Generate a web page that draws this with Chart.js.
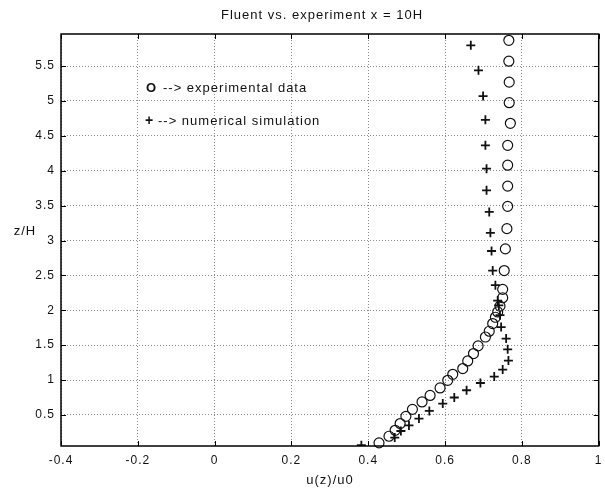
<!DOCTYPE html>
<html>
<head>
<meta charset="utf-8">
<script src="https://cdn.jsdelivr.net/npm/chart.js@4/dist/chart.umd.min.js"></script>
<style>
  html, body { margin: 0; padding: 0; background: #fff; }
  #wrap { width: 605px; height: 491px; }
</style>
</head>
<body>
<div id="wrap"><canvas id="perfil" width="605" height="491"></canvas></div>
<script>
// experimental data (circles)
var expU = [0.766, 0.766, 0.767, 0.767, 0.770, 0.763, 0.763, 0.763, 0.763, 0.761,
            0.757, 0.754, 0.750, 0.750, 0.743, 0.737, 0.731, 0.724, 0.715, 0.705,
            0.686, 0.674, 0.659, 0.646, 0.620, 0.607, 0.587, 0.561, 0.540, 0.515,
            0.498, 0.483, 0.470, 0.454, 0.428];
var expZ = [5.87, 5.57, 5.27, 4.975, 4.68, 4.364, 4.08, 3.78, 3.49, 3.17,
            2.88, 2.57, 2.30, 2.18, 2.06, 1.976, 1.90, 1.81, 1.70, 1.617,
            1.49, 1.38, 1.274, 1.165, 1.083, 0.997, 0.887, 0.78, 0.686, 0.58,
            0.48, 0.377, 0.28, 0.195, 0.10];

// numerical simulation (stars)
var numU = [0.667, 0.687, 0.699, 0.705, 0.705, 0.708, 0.708, 0.715, 0.718, 0.721,
            0.724, 0.731, 0.737, 0.740, 0.743, 0.746, 0.759, 0.763, 0.765, 0.750,
            0.728, 0.692, 0.656, 0.624, 0.594, 0.559, 0.532, 0.506, 0.485, 0.469,
            0.382];
var numZ = [5.797, 5.44, 5.07, 4.73, 4.364, 4.03, 3.72, 3.41, 3.11, 2.85,
            2.57, 2.36, 2.14, 2.07, 1.93, 1.76, 1.594, 1.44, 1.28, 1.15,
            1.05, 0.958, 0.854, 0.75, 0.663, 0.557, 0.448, 0.35, 0.27, 0.176,
            0.066];

var xTicks = [-0.4, -0.2, 0, 0.2, 0.4, 0.6, 0.8, 1];
var xLabels = ['-0.4', '-0.2', '0', '0.2', '0.4', '0.6', '0.8', '1'];
var yTicks = [0.5, 1, 1.5, 2, 2.5, 3, 3.5, 4, 4.5, 5, 5.5];
var yLabels = ['0.5', '1', '1.5', '2', '2.5', '3', '3.5', '4', '4.5', '5', '5.5'];

var titulo = 'Fluent vs. experiment x = 10H';
var tituloX = 'u(z)/u0';
var tituloY = 'z/H';
var leyenda = [['O', '--> experimental data'], ['+', '--> numerical simulation']];

var fuente = '"Liberation Sans", Arial, sans-serif';

var puntosExp = [];
for (var i = 0; i < expU.length; i++) {
    puntosExp.push({x: expU[i], y: expZ[i]});
}
var puntosNum = [];
for (var i = 0; i < numU.length; i++) {
    puntosNum.push({x: numU[i], y: numZ[i]});
}

// the old matlab text is wide, so a bit of letter spacing everywhere
const espaciado = {
    id: 'espaciado',
    beforeLayout(chart) { chart.ctx.letterSpacing = '1px'; },
    beforeDraw(chart) { chart.ctx.letterSpacing = '1px'; }
};

// title, axis titles, text legend, box and inward ticks (matlab look)
const textos = {
    id: 'textos',
    afterDraw(chart) {
        const ctx = chart.ctx;
        const a = chart.chartArea;
        const sx = chart.scales.x;
        const sy = chart.scales.y;
        ctx.save();
        ctx.strokeStyle = '#000';
        ctx.lineWidth = 1;
        xTicks.forEach(function (v) {
            var p = Math.round(sx.getPixelForValue(v)) + 0.5;
            ctx.beginPath();
            ctx.moveTo(p, a.bottom); ctx.lineTo(p, a.bottom - 5);
            ctx.moveTo(p, a.top); ctx.lineTo(p, a.top + 5);
            ctx.stroke();
        });
        yTicks.forEach(function (v) {
            var p = Math.round(sy.getPixelForValue(v)) + 0.5;
            ctx.beginPath();
            ctx.moveTo(a.left, p); ctx.lineTo(a.left + 5, p);
            ctx.moveTo(a.right, p); ctx.lineTo(a.right - 5, p);
            ctx.stroke();
        });
        ctx.lineWidth = 1.5;
        ctx.strokeRect(a.left, a.top, a.right - a.left, a.bottom - a.top);

        ctx.fillStyle = '#111';
        ctx.textBaseline = 'middle';
        ctx.textAlign = 'center';
        ctx.letterSpacing = '1px';
        ctx.font = '13px ' + fuente;
        ctx.fillText(titulo, 322, 15);
        ctx.fillText(tituloX, 330, 480);
        ctx.fillText(tituloY, 25, 231);

        ctx.textAlign = 'left';
        ctx.font = 'bold 13px ' + fuente;
        ctx.fillText(leyenda[0][0], 146, 88);
        ctx.font = '13px ' + fuente;
        ctx.fillText(leyenda[0][1], 163, 88);
        ctx.font = 'bold 14px ' + fuente;
        ctx.fillText(leyenda[1][0], 145, 121);
        ctx.font = '13px ' + fuente;
        ctx.fillText(leyenda[1][1], 158, 121);
        ctx.restore();
    }
};

const dataPerfil = {
    datasets: [{
        label: 'experimental data',
        data: puntosExp,
        showLine: false,
        pointStyle: 'circle',
        pointRadius: 5,
        pointBorderWidth: 1.2,
        borderColor: '#111',
        backgroundColor: 'rgba(0,0,0,0)',
        clip: 6
    }, {
        label: 'numerical simulation',
        data: puntosNum,
        showLine: false,
        pointStyle: 'cross',
        pointRadius: 4.5,
        pointBorderWidth: 1.8,
        borderColor: '#111',
        backgroundColor: '#111',
        clip: 0
    }]
};

const configPerfil = {
    type: 'scatter',
    data: dataPerfil,
    plugins: [espaciado, textos],
    options: {
        responsive: false,
        animation: false,
        layout: {
            padding: {top: 34, right: 1, left: 0, bottom: 0}
        },
        plugins: {
            legend: {display: false},
            title: {display: false},
            tooltip: {enabled: false}
        },
        scales: {
            x: {
                type: 'linear',
                min: -0.4,
                max: 1,
                afterBuildTicks: function (scale) {
                    scale.ticks = xTicks.map(function (v) { return {value: v}; });
                },
                afterFit: function (scale) {
                    scale.height = 45;
                    scale.paddingRight = 6;
                },
                ticks: {
                    autoSkip: false,
                    maxRotation: 0,
                    padding: 7,
                    color: '#111',
                    font: {family: fuente, size: 12},
                    callback: function (v) { return xLabels[xTicks.indexOf(v)]; }
                },
                grid: {color: '#8a8a8a', lineWidth: 1, drawTicks: false},
                border: {display: false, dash: [1, 2]}
            },
            y: {
                type: 'linear',
                min: 0.055,
                max: 5.96,
                afterBuildTicks: function (scale) {
                    scale.ticks = yTicks.map(function (v) { return {value: v}; });
                },
                afterFit: function (scale) { scale.width = 61; },
                ticks: {
                    autoSkip: false,
                    padding: 6,
                    color: '#111',
                    font: {family: fuente, size: 12},
                    callback: function (v) { return yLabels[yTicks.indexOf(v)]; }
                },
                grid: {color: '#8a8a8a', lineWidth: 1, drawTicks: false},
                border: {display: false, dash: [1, 2]}
            }
        }
    }
};

const myChartPerfil = new Chart(
    document.getElementById('perfil'),
    configPerfil
);
</script>
</body>
</html>
